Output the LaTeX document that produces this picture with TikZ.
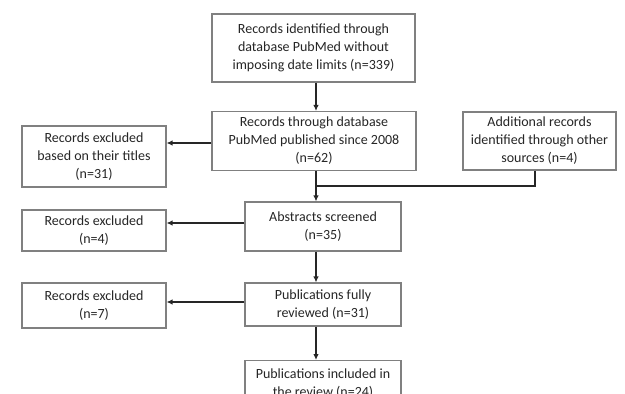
\documentclass[tikz,border=0pt]{standalone}
\usepackage{fontspec}
\setmainfont{Carlito}
\usetikzlibrary{arrows.meta,calc}
\tikzset{
  box/.style={draw=black!50, line width=1.1pt, fill=white, align=center, inner sep=2pt,
    font=\fontsize{14}{18}\selectfont, text=black!85},
  conn/.style={draw=black!85, line width=1.3pt},
  arr/.style={conn, -{Latex[length=6pt,width=5.5pt]}}
}
\begin{document}
\begin{tikzpicture}[x=1pt,y=-1pt]
\useasboundingbox (0,0) rectangle (625,394);
\clip (0,0) rectangle (625,394);
\node[box, minimum width=203pt, minimum height=68pt] (b1) at (313.5,48)
  {Records identified through\\database PubMed without\\imposing date limits (n=339)};
\node[box, minimum width=204pt, minimum height=59pt] (b2) at (314,141)
  {Records through database\\PubMed published since 2008\\(n=62)};
\node[box, minimum width=144pt, minimum height=61pt] (ex1) at (94,156.5)
  {Records excluded\\based on their titles\\(n=31)};
\node[box, minimum width=153pt, minimum height=58pt] (add) at (539.5,141)
  {Additional records\\identified through other\\sources (n=4)};
\node[box, minimum width=156pt, minimum height=49pt] (abs) at (323,226.5)
  {Abstracts screened\\(n=35)};
\node[box, minimum width=144pt, minimum height=41pt] (ex2) at (94,230.5)
  {Records excluded\\(n=4)};
\node[box, minimum width=156pt, minimum height=43pt] (pub) at (323,304.5)
  {Publications fully\\reviewed (n=31)};
\node[box, minimum width=144pt, minimum height=45pt] (ex3) at (94,305.5)
  {Records excluded\\(n=7)};
\node[box, minimum width=156pt, minimum height=46pt, anchor=north] (inc) at (323,360)
  {Publications included in\\the review (n=24)};
\coordinate (sp) at (316,0);
\coordinate (mj) at (316,186);
\draw[arr] (b1.south -| sp) -- (b2.north -| sp);
\draw[arr] (b2.west |- 0,143) -- (ex1.east |- 0,143);
\draw[conn] (b2.south -| sp) -- (mj);
\draw[conn] (add.south -| 535,0) |- (mj);
\draw[arr] (mj) -- (abs.north -| sp);
\draw[arr] (abs.west |- 0,223) -- (ex2.east |- 0,223);
\draw[arr] (abs.south -| sp) -- (pub.north -| sp);
\draw[arr] (pub.west |- 0,302) -- (ex3.east |- 0,302);
\draw[arr] (pub.south -| sp) -- (inc.north -| sp);
\end{tikzpicture}
\end{document}
